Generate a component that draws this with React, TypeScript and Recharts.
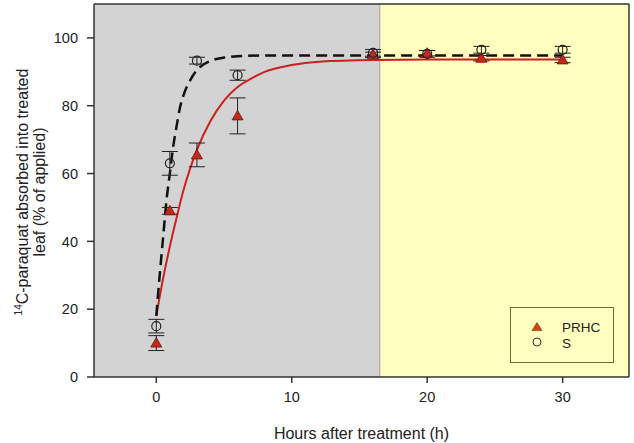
import React from 'react';
import {
  ComposedChart, Line, Scatter, ErrorBar, XAxis, YAxis, ReferenceArea, ReferenceLine,
} from 'recharts';

// measured points (mean ± error)
const hours = [0, 1, 3, 6, 16, 20, 24, 30];
const prhcMean = [10, 49, 65.5, 77, 95, 95.5, 94, 93.5];
const prhcErr = [2.2, 1, 3.5, 5.3, 0.8, 0.8, 0.8, 0.8];
const sMean = [15, 63, 93.3, 89, 95.6, 95.3, 96.5, 96.5];
const sErr = [2, 3.5, 1, 1.5, 1, 1, 1, 1];

// fitted curves
const fitHoursS = [0, 0.25, 0.5, 0.75, 1, 1.25, 1.5, 1.75, 2, 2.5, 3, 4, 5, 6, 8, 12, 16, 20, 24, 30];
const fitS = [18, 30, 41, 52, 60, 68, 74, 79.5, 83, 87.5, 90.5, 93.2, 94.2, 94.6, 94.8, 94.8, 94.8, 94.8, 94.8, 94.8];
const fitHoursPRHC = [0, 0.5, 1, 1.5, 2, 2.5, 3, 4, 5, 6, 7, 8, 10, 12, 16, 20, 24, 30];
const fitPRHC = [18, 29, 38.5, 47, 55, 61.5, 67, 75.5, 81.5, 85.5, 88, 90, 92, 93, 93.5, 93.6, 93.6, 93.6];

const xTicks = [0, 10, 20, 30];
const yTicks = [0, 20, 40, 60, 80, 100];

const COLORS = {
  GRAY_BG: '#d3d3d3',
  YELLOW_BG: '#ffffc0',
  RED_LINE: '#cc1f1f',
  TRIANGLE: '#c8261a',
  AXIS: '#333333',
};

const FONT = '"Liberation Sans", Arial, sans-serif';

const prhcData = hours.map((h, i) => ({ x: h, y: prhcMean[i], err: prhcErr[i] }));
const sData = hours.map((h, i) => ({ x: h, y: sMean[i], err: sErr[i] }));
const sFit = fitHoursS.map((h, i) => ({ x: h, y: fitS[i] }));
const prhcFit = fitHoursPRHC.map((h, i) => ({ x: h, y: fitPRHC[i] }));

const Triangle = (props: any) => {
  const { cx, cy } = props;
  if (cx == null || cy == null) return null;
  return (
    <path
      d={`M${cx},${cy - 5.5} L${cx + 5.5},${cy + 4} L${cx - 5.5},${cy + 4} Z`}
      fill={COLORS.TRIANGLE}
      stroke="#5a1a10"
      strokeWidth={0.8}
    />
  );
};

const Circle = (props: any) => {
  const { cx, cy } = props;
  if (cx == null || cy == null) return null;
  return <circle cx={cx} cy={cy} r={4.5} fill="none" stroke="#222" strokeWidth={1.2} />;
};

const YLabel = () => (
  <g fontFamily={FONT} fill="#222" textAnchor="middle">
    <text transform="translate(28,192) rotate(-90)" fontSize={16}>
      <tspan fontSize={10} dy={-6}>14</tspan>
      <tspan dy={6}>C-paraquat absorbed into treated</tspan>
    </text>
    <text transform="translate(45,192) rotate(-90)" fontSize={16}>
      leaf (% of applied)
    </text>
  </g>
);

const LegendBox = () => (
  <svg width={104} height={56} style={{ display: 'block' }}>
    <rect x={0.5} y={0.5} width={103} height={55} fill={COLORS.YELLOW_BG} stroke="#6b6b3a" strokeWidth={1} />
    <path d="M27,15.5 L32,23.5 L22,23.5 Z" fill="#d04a10" stroke="#7a2a08" strokeWidth={0.6} />
    <circle cx={27} cy={35} r={4} fill="none" stroke="#333" strokeWidth={1} />
    <text x={52} y={25} fontSize={13.5} fontFamily={FONT} fill="#222">PRHC</text>
    <text x={52} y={40.5} fontSize={13.5} fontFamily={FONT} fill="#222">S</text>
  </svg>
);

export default function App() {
  return (
    <div style={{ position: 'absolute', left: 0, top: 0, width: 634, height: 443, background: '#fff' }}>
      <ComposedChart width={634} height={443} margin={{ top: 4, right: 5, left: 0, bottom: 0 }}>
        <ReferenceArea x1={-4.6} x2={16.5} y1={0} y2={110} fill={COLORS.GRAY_BG} fillOpacity={1} stroke="none" ifOverflow="hidden" />
        <ReferenceArea x1={16.5} x2={34.9} y1={0} y2={110} fill={COLORS.YELLOW_BG} fillOpacity={1} stroke="none" ifOverflow="hidden" />
        <ReferenceLine x={16.5} stroke="#a0a090" strokeWidth={1} />
        <ReferenceLine y={110} stroke={COLORS.AXIS} strokeWidth={1.5} />
        <ReferenceLine x={34.9} stroke={COLORS.AXIS} strokeWidth={1.5} />
        <XAxis
          type="number"
          dataKey="x"
          domain={[-4.6, 34.9]}
          ticks={xTicks}
          allowDataOverflow
          height={66}
          tickSize={6}
          tickMargin={9}
          stroke={COLORS.AXIS}
          strokeWidth={1.5}
          tick={{ fontSize: 14.5, fill: '#222', fontFamily: FONT }}
          label={{ value: 'Hours after treatment (h)', position: 'insideBottom', offset: 4, fontSize: 16, fill: '#222', fontFamily: FONT }}
        />
        <YAxis
          type="number"
          dataKey="y"
          domain={[0, 110]}
          ticks={yTicks}
          allowDataOverflow
          width={94}
          tickSize={7}
          tickMargin={9}
          stroke={COLORS.AXIS}
          strokeWidth={1.5}
          tick={{ fontSize: 14.5, fill: '#222', fontFamily: FONT }}
          label={{ content: () => <YLabel /> }}
        />
        <Line
          data={prhcFit}
          dataKey="y"
          type="monotone"
          stroke={COLORS.RED_LINE}
          strokeWidth={2}
          dot={false}
          activeDot={false}
          isAnimationActive={false}
        />
        <Line
          data={sFit}
          dataKey="y"
          type="monotone"
          stroke="#111"
          strokeWidth={2.5}
          strokeDasharray="11 6"
          dot={false}
          activeDot={false}
          isAnimationActive={false}
        />
        <Scatter data={prhcData} dataKey="y" shape={<Triangle />} isAnimationActive={false}>
          <ErrorBar dataKey="err" direction="y" width={8} stroke="#222" strokeWidth={1} />
        </Scatter>
        <Scatter data={sData} dataKey="y" shape={<Circle />} isAnimationActive={false}>
          <ErrorBar dataKey="err" direction="y" width={8} stroke="#222" strokeWidth={1} />
        </Scatter>
      </ComposedChart>
      <div style={{ position: 'absolute', left: 510, top: 307 }}>
        <LegendBox />
      </div>
    </div>
  );
}
